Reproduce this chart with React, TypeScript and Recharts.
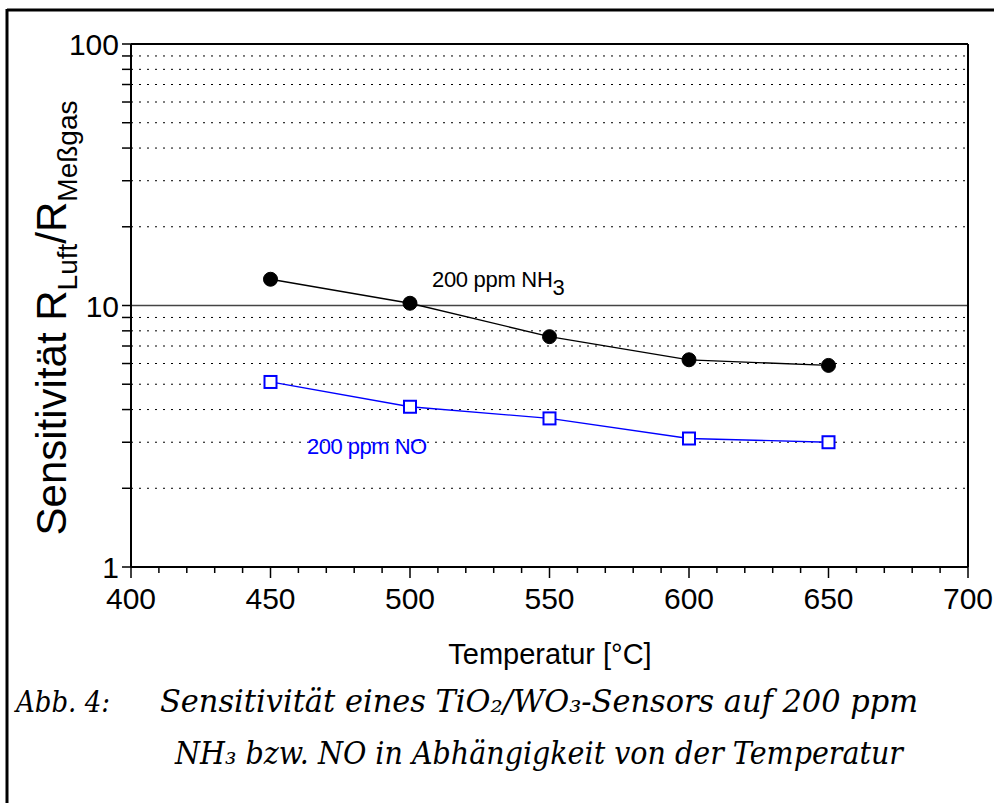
import React from 'react';
import { LineChart, Line, XAxis, YAxis, CartesianGrid, ReferenceLine } from 'recharts';

const temperatures = [450, 500, 550, 600, 650];
const nh3Values = [12.6, 10.2, 7.6, 6.2, 5.9];
const noValues = [5.1, 4.1, 3.7, 3.1, 3.0];
const xTicks = [400, 410, 420, 430, 440, 450, 460, 470, 480, 490, 500, 510, 520, 530, 540, 550, 560, 570, 580, 590, 600, 610, 620, 630, 640, 650, 660, 670, 680, 690, 700];
const xLabelTicks = [400, 450, 500, 550, 600, 650, 700];
const yTicks = [1, 2, 3, 4, 5, 6, 7, 8, 9, 10, 20, 30, 40, 50, 60, 70, 80, 90, 100];
const yLabelTicks = [1, 10, 100];

const data = temperatures.map((t, i) => ({ t, nh3: nh3Values[i], no: noValues[i] }));

const FONT = '"Liberation Sans", Arial, sans-serif';
const SERIF = '"DejaVu Serif", serif';

const XTick = (props: any) => {
  const { x, y, payload } = props;
  const major = xLabelTicks.includes(payload.value);
  return (
    <g>
      <line x1={x} x2={x} y1={y} y2={y + (major ? 11 : 6)} stroke="#000" strokeWidth={1.5} />
      {major && (
        <text x={x} y={y + 42} textAnchor="middle" fontFamily={FONT} fontSize={30} fill="#000">
          {payload.value}
        </text>
      )}
    </g>
  );
};

const YTick = (props: any) => {
  const { x, y, payload } = props;
  const major = yLabelTicks.includes(payload.value);
  return (
    <g>
      <line x1={x - 9} x2={x} y1={y} y2={y} stroke="#000" strokeWidth={1.5} />
      {major && (
        <text x={x - 12} y={y + 11} textAnchor="end" fontFamily={FONT} fontSize={30} fill="#000">
          {payload.value}
        </text>
      )}
    </g>
  );
};

const SquareDot = (props: any) => {
  const { cx, cy } = props;
  if (cx == null || cy == null) return null;
  return <rect x={cx - 6} y={cy - 6} width={12} height={12} fill="#fff" stroke="#0000ff" strokeWidth={2} />;
};

const CircleDot = (props: any) => {
  const { cx, cy } = props;
  if (cx == null || cy == null) return null;
  return <circle cx={cx} cy={cy} r={7} fill="#000" stroke="#000" />;
};

export default function App() {
  return (
    <div style={{ position: 'absolute', left: 0, top: 0, width: 994, height: 803, background: '#fff' }}>
      <LineChart
        width={994}
        height={803}
        data={data}
        margin={{ top: 44, right: 26, left: 51, bottom: 196 }}
      >
        <CartesianGrid vertical={false} stroke="#000" strokeDasharray="2 6" strokeWidth={1} />
        <ReferenceLine y={10} stroke="#444" strokeWidth={1.5} />
        <ReferenceLine y={100} stroke="#000" strokeWidth={2} />
        <ReferenceLine x={700} stroke="#000" strokeWidth={2} />
        <XAxis
          dataKey="t"
          type="number"
          domain={[400, 700]}
          ticks={xTicks}
          interval={0}
          tickSize={0}
          tickMargin={0}
          tick={<XTick />}
          axisLine={{ stroke: '#000', strokeWidth: 2 }}
          height={40}
        />
        <YAxis
          type="number"
          scale="log"
          domain={[1, 100]}
          ticks={yTicks}
          interval={0}
          allowDataOverflow
          tickSize={0}
          tickMargin={0}
          tick={<YTick />}
          axisLine={{ stroke: '#000', strokeWidth: 2 }}
          width={80}
        />
        <Line
          dataKey="nh3"
          stroke="#000"
          strokeWidth={1.3}
          dot={<CircleDot />}
          isAnimationActive={false}
        />
        <Line
          dataKey="no"
          stroke="#0000ff"
          strokeWidth={1.3}
          dot={<SquareDot />}
          isAnimationActive={false}
        />
      </LineChart>
      <svg
        width={994}
        height={803}
        style={{ position: 'absolute', left: 0, top: 0, pointerEvents: 'none' }}
      >
        <line x1={7} x2={994} y1={10} y2={10} stroke="#000" strokeWidth={3} />
        <line x1={7} x2={7} y1={9} y2={803} stroke="#000" strokeWidth={3} />
        <text
          transform="translate(66,318) rotate(-90)"
          textAnchor="middle"
          fontFamily={FONT}
          fontSize={42}
          fill="#000"
        >
          Sensitivität R
          <tspan dy={11} fontSize={28}>Luft</tspan>
          <tspan dy={-11} fontSize={42}>/R</tspan>
          <tspan dy={11} fontSize={28}>Meßgas</tspan>
        </text>
        <text x={550} y={664} textAnchor="middle" fontFamily={FONT} fontSize={29} fill="#000">
          Temperatur [°C]
        </text>
        <text x={432} y={287} fontFamily={FONT} fontSize={22} fill="#000" letterSpacing={-0.3}>
          200 ppm NH<tspan dy={8} fontSize={22}>3</tspan>
        </text>
        <text x={307} y={454} fontFamily={FONT} fontSize={22} fill="#0000ff" letterSpacing={-0.5}>
          200 ppm NO
        </text>
        <text
          x={16}
          y={712}
          fontFamily={SERIF}
          fontStyle="italic"
          fontSize={30}
          fill="#000"
          textLength={94}
          lengthAdjust="spacingAndGlyphs"
        >
          Abb. 4:
        </text>
        <text
          x={160}
          y={712}
          fontFamily={SERIF}
          fontStyle="italic"
          fontSize={31}
          fill="#000"
          textLength={758}
          lengthAdjust="spacingAndGlyphs"
        >
          Sensitivität eines TiO₂/WO₃-Sensors auf 200 ppm
        </text>
        <text
          x={175}
          y={764}
          fontFamily={SERIF}
          fontStyle="italic"
          fontSize={31}
          fill="#000"
          textLength={728}
          lengthAdjust="spacingAndGlyphs"
        >
          NH₃ bzw. NO in Abhängigkeit von der Temperatur
        </text>
      </svg>
    </div>
  );
}
